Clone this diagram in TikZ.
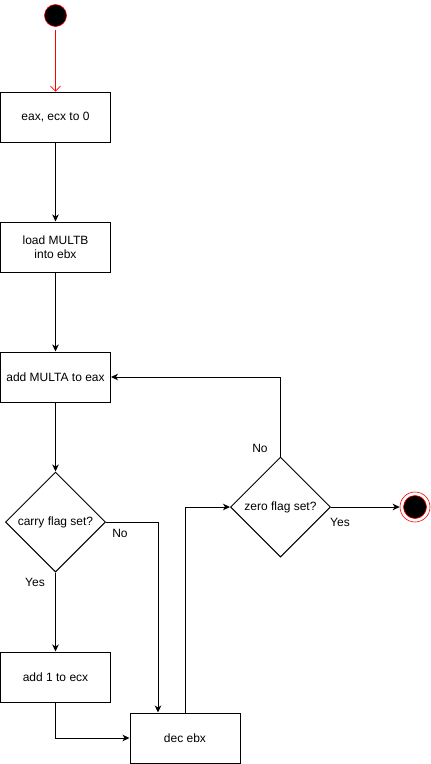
\documentclass[tikz,border=0pt]{standalone}
\usepackage{fontspec}
\setmainfont{Liberation Sans}
\usetikzlibrary{shapes.geometric,arrows.meta}
\begin{document}
\begin{tikzpicture}[x=1pt,y=-1pt,
  font=\fontsize{12pt}{14pt}\selectfont,
  every node/.style={line width=1pt},
  box/.style={draw, rectangle, minimum width=110pt, minimum height=50pt, inner sep=0pt, align=center},
  diam/.style={draw, diamond, minimum width=100pt, minimum height=100pt, inner sep=0pt},
  arr/.style={line width=1pt, -{Stealth[length=7pt,width=6.5pt,inset=2pt]}},
  lbl/.style={inner sep=0pt}]
\useasboundingbox (0,0) rectangle (431,764);
\node[circle, fill=black, draw={rgb,255:red,255;green,0;blue,0}, line width=0.6pt, minimum size=22pt, inner sep=0pt] (start) at (55.5,15.5) {};
\node[box] (b1) at (55.5,117) {eax, ecx to 0};
\node[box] (b2) at (55.5,247) {load MULTB\\ into ebx};
\node[box] (b3) at (55.5,377) {add MULTA to eax};
\node[diam, label=center:{carry flag set?}] (d1) at (55.5,522) {};
\node[box] (b4) at (55.5,677) {add 1 to ecx};
\node[box] (dec) at (185,738) {dec ebx};
\node[diam, label=center:{zero flag set?}] (d2) at (280.5,507) {};
\node[circle, draw={rgb,255:red,255;green,0;blue,0}, line width=0.6pt, minimum size=30pt, inner sep=0pt] (endo) at (415,507) {};
\node[circle, fill=black, draw={rgb,255:red,255;green,0;blue,0}, line width=0.6pt, minimum size=23pt, inner sep=0pt] (endi) at (415,507) {};
\draw[line width=0.6pt, color={rgb,255:red,255;green,0;blue,0}, -{Straight Barb[length=5pt,width=10pt]}] (start.south) ++(0,3) -- (b1.north);
\draw[arr] (b1.south) -- (b2.north);
\draw[arr] (b2.south) -- (b3.north);
\draw[arr] (b3.south) -- (d1.north);
\draw[arr] (d1.south) -- (b4.north);
\draw[arr] (d1.east) -| ([xshift=-27pt]dec.north);
\draw[arr] (b4.south) |- (dec.west);
\draw[arr] (dec.north) |- (d2.west);
\draw[arr] (d2.north) |- (b3.east);
\draw[arr] (d2.east) -- (endo.west);
\node[lbl] (lno1) at (120,533) {No};
\node[lbl] (lyes1) at (35,582) {Yes};
\node[lbl] (lno2) at (260,448) {No};
\node[lbl] (lyes2) at (340,522) {Yes};
\end{tikzpicture}
\end{document}
